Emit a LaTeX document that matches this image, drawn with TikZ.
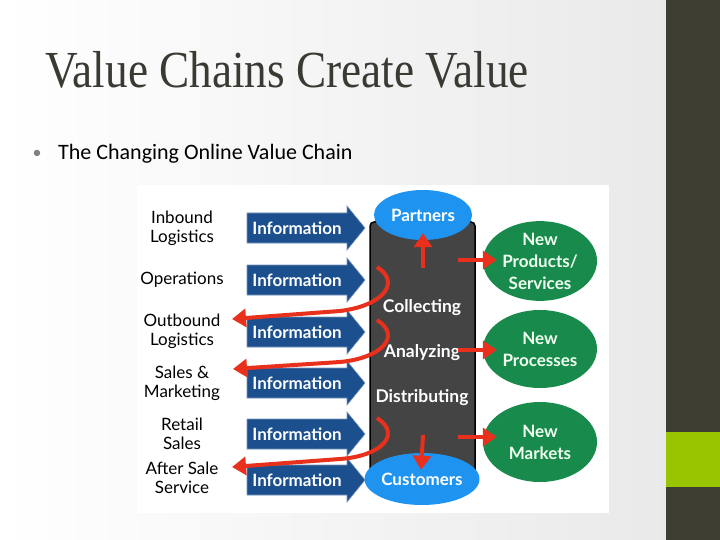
\documentclass[tikz,border=0pt]{standalone}
\usepackage{fontspec}
\usepackage{graphicx}
\setmainfont{Liberation Serif}
\newfontfamily\slidefont{Carlito}
\newfontfamily\gill{Lato}
\usetikzlibrary{arrows.meta,shapes.geometric}
\definecolor{infoblue}{HTML}{1C4F8E}
\definecolor{redarr}{HTML}{E8301C}
\definecolor{partblue}{HTML}{1E93F0}
\definecolor{cylgray}{HTML}{444444}
\definecolor{newgreen}{HTML}{178A4C}
\definecolor{stripdark}{HTML}{3E3D31}
\definecolor{stripgreen}{HTML}{99C500}
\definecolor{titlegray}{HTML}{3A3A33}
\tikzset{
  lbl/.style={align=center, font=\gill\fontsize{17}{19}\selectfont, inner sep=0pt},
  infoarr/.style={fill=infoblue, draw=infoblue!60!white, line width=0.6pt},
  infotxt/.style={text=white, font=\gill\bfseries\fontsize{17}{19}\selectfont, inner sep=0pt},
  redarrow/.style={draw=redarr, line width=4pt, -{Triangle[length=14pt,width=18pt]}},
  endpt/.style={ellipse, fill=partblue, inner sep=0pt, text=white, font=\gill\bfseries\fontsize{17}{19}\selectfont},
  outcome/.style={ellipse, fill=newgreen, inner sep=0pt, align=center, text=green!6!white, font=\gill\bfseries\fontsize{17}{22}\selectfont},
  cyltxt/.style={text=white, font=\gill\bfseries\fontsize{17.5}{19}\selectfont, inner sep=0pt}
}
\newcommand{\infoarrow}[2]{%
  \fill[infoarr] (247,#1-15) -- (347,#1-15) -- (347,#1-22) -- (365,#1) -- (347,#1+22) -- (347,#1+15) -- (247,#1+15) -- cycle;
  \node[infotxt] (#2) at (297,#1) {Information};}
\begin{document}
\begin{tikzpicture}[x=1pt,y=-1pt]
\useasboundingbox (0,0) rectangle (720,540);
% background
\shade[left color=white, right color=gray!17] (0,0) rectangle (666,540);
\fill[stripdark] (666,0) rectangle (720,540);
\fill[stripgreen] (666,432) rectangle (720,487);
% title
\node[anchor=base west, inner sep=0pt, text=titlegray, font=\fontsize{52}{60}\selectfont] (title) at (45,88) {\scalebox{0.87}[1]{Value Chains Create Value}};
\node[anchor=base, inner sep=0pt, text=gray, font=\slidefont\fontsize{18}{24}\selectfont] (dot) at (37,159) {•};
\node[anchor=base west, inner sep=0pt, text=black, font=\slidefont\fontsize{22}{24}\selectfont] (sub) at (58,160) {The Changing Online Value Chain};
% diagram panel
\fill[white] (137,185) rectangle (609,513);
% labels
\node[lbl] (inb) at (182,228) {Inbound\\Logistics};
\node[lbl] (ops) at (182,280) {Operations};
\node[lbl] (outb) at (182,331) {Outbound\\Logistics};
\node[lbl] (sales) at (182,383) {Sales \&\\Marketing};
\node[lbl] (retail) at (182,434) {Retail\\Sales};
\node[lbl] (after) at (182,478) {After Sale\\Service};
% information arrows
\infoarrow{228}{i1}
\infoarrow{280}{i2}
\infoarrow{332}{i3}
\infoarrow{383}{i4}
\infoarrow{434}{i5}
\infoarrow{480}{i6}
% cylinder
\fill[cylgray, draw=black, line width=1.5pt, rounded corners=4pt] (370,222) rectangle (475,484);
\node[endpt, minimum width=98pt, minimum height=50pt] (partners) at (423,215) {Partners};
\node[endpt, minimum width=100pt, minimum height=52pt] (customers) at (422,479) {Customers};
\node[cyltxt] (coll) at (422,308) {Collecting};
\node[cyltxt] (anal) at (422,353) {Analyzing};
\node[cyltxt] (dist) at (422,398) {Distributing};
% outcomes
\node[outcome, minimum width=114pt, minimum height=76pt] (prod) at (540,261) {New\\Products/\\Services};
\node[outcome, minimum width=114pt, minimum height=78pt] (proc) at (540,349) {New\\Processes};
\node[outcome, minimum width=114pt, minimum height=80pt] (mkts) at (540,442) {New\\Markets};
% red arrows
\coordinate (up0) at (423,268);
\coordinate (dn0) at (423,435);
\draw[redarrow, shorten >=-7pt] (up0) -- (partners.south);
\draw[redarrow, shorten >=-17pt] (dn0) -- (customers.north);
\coordinate (r1) at (458,260);
\coordinate (r2) at (458,350);
\coordinate (r3) at (458,437);
\draw[redarrow, shorten >=-14pt] (r1) -- (r1 -| prod.west);
\draw[redarrow, shorten >=-14pt] (r2) -- (r2 -| proc.west);
\draw[redarrow, shorten >=-14pt] (r3) -- (r3 -| mkts.west);
\coordinate (c1) at (377,267);
\coordinate (t1) at (232,319);
\coordinate (c2) at (377,320);
\coordinate (t2) at (233,369);
\coordinate (c3) at (377,418);
\coordinate (t3) at (232,467);
\draw[redarrow] (c1) .. controls (402,283) and (382,306) .. (340,311) -- (t1);
\draw[redarrow] (c2) .. controls (402,336) and (382,358) .. (340,362) -- (t2);
\draw[redarrow] (c3) .. controls (402,434) and (382,456) .. (340,459) -- (t3);
\end{tikzpicture}
\end{document}
